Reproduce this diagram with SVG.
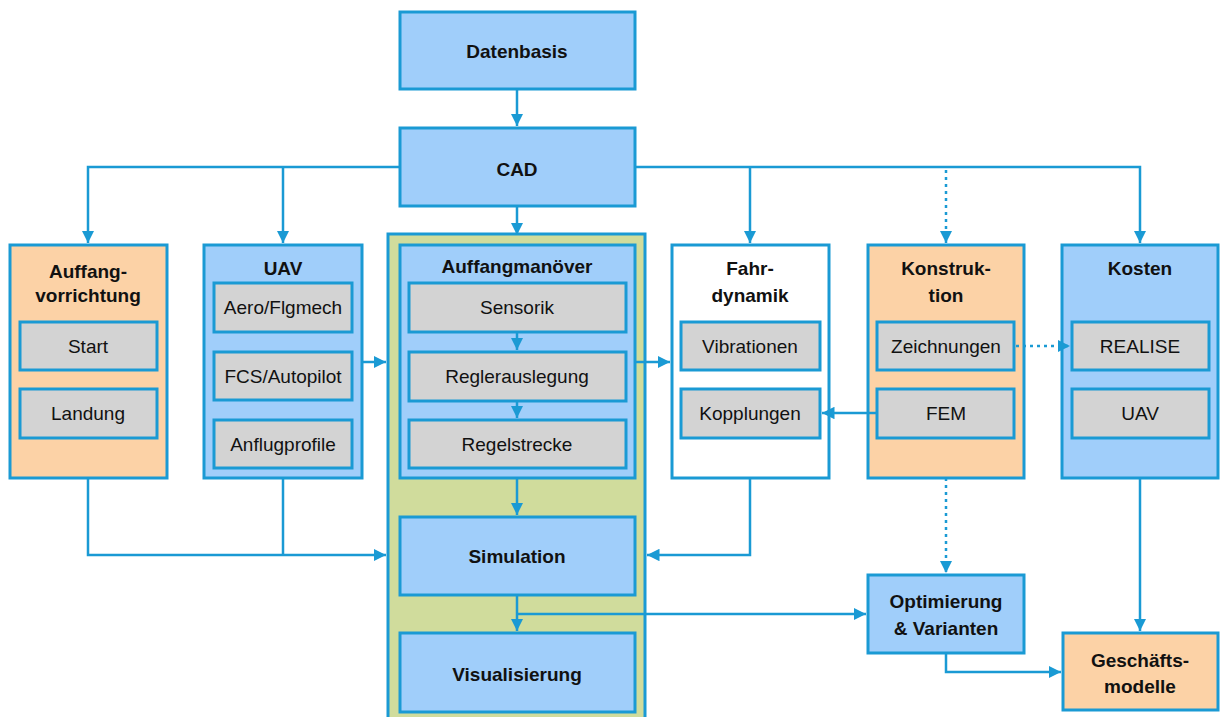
<svg xmlns="http://www.w3.org/2000/svg" width="1220" height="717" viewBox="0 0 1220 717">
  <defs>
    <marker id="arr" viewBox="0 0 10 10" refX="10" refY="5" markerWidth="5" markerHeight="5" orient="auto" markerUnits="strokeWidth">
      <path d="M0,0 L10,5 L0,10 z" fill="#1a9ad4"/>
    </marker>
    <style>
      .blue { fill: #a0cefa; stroke: #1a9ad4; stroke-width: 3; }
      .orange { fill: #fcd2a6; stroke: #1a9ad4; stroke-width: 3; }
      .white { fill: #ffffff; stroke: #1a9ad4; stroke-width: 3; }
      .green { fill: #d0dc9c; stroke: #1a9ad4; stroke-width: 3; }
      .gray { fill: #d3d3d3; stroke: #1a9ad4; stroke-width: 3; }
      .title { font-family: "Liberation Sans", Arial, sans-serif; font-weight: bold; font-size: 19px; fill: #111; text-anchor: middle; }
      .sub { font-family: "Liberation Sans", Arial, sans-serif; font-size: 19px; fill: #111; text-anchor: middle; }
      .ln { fill: none; stroke: #1a9ad4; stroke-width: 2.5; }
      .dot { fill: none; stroke: #1a9ad4; stroke-width: 2.5; stroke-dasharray: 3 4; }
    </style>
  </defs>

  <!-- green container around the simulation chain -->
  <rect id="sim-bereich" class="green" x="388" y="234" width="257" height="490"/>

  <g id="datenbasis">
    <rect class="blue" x="400" y="12" width="235" height="77"/>
    <text class="title" x="517" y="58">Datenbasis</text>
  </g>
  <g id="cad">
    <rect class="blue" x="400" y="128" width="235" height="78"/>
    <text class="title" x="517" y="176">CAD</text>
  </g>

  <g id="auffangvorrichtung">
    <rect class="orange" x="10" y="245" width="157" height="233"/>
    <text class="title" x="88" y="278">Auffang-</text>
    <text class="title" x="88" y="302">vorrichtung</text>
    <rect class="gray" x="20" y="322" width="137" height="48"/>
    <text class="sub" x="88" y="353">Start</text>
    <rect class="gray" x="20" y="389" width="137" height="49"/>
    <text class="sub" x="88" y="420">Landung</text>
  </g>

  <g id="uav">
    <rect class="blue" x="204" y="245" width="158" height="233"/>
    <text class="title" x="283" y="275">UAV</text>
    <rect class="gray" x="214" y="283" width="138" height="49"/>
    <text class="sub" x="283" y="314">Aero/Flgmech</text>
    <rect class="gray" x="214" y="352" width="138" height="48"/>
    <text class="sub" x="283" y="383">FCS/Autopilot</text>
    <rect class="gray" x="214" y="420" width="138" height="48"/>
    <text class="sub" x="283" y="451">Anflugprofile</text>
  </g>

  <g id="auffangmanoever">
    <rect class="blue" x="400" y="245" width="235" height="233"/>
    <text class="title" x="517" y="273">Auffangmanöver</text>
    <rect class="gray" x="409" y="283" width="217" height="49"/>
    <text class="sub" x="517" y="314">Sensorik</text>
    <rect class="gray" x="409" y="352" width="217" height="49"/>
    <text class="sub" x="517" y="383">Reglerauslegung</text>
    <rect class="gray" x="409" y="420" width="217" height="48"/>
    <text class="sub" x="517" y="451">Regelstrecke</text>
  </g>

  <g id="fahrdynamik">
    <rect class="white" x="672" y="245" width="157" height="233"/>
    <text class="title" x="750" y="275">Fahr-</text>
    <text class="title" x="750" y="302">dynamik</text>
    <rect class="gray" x="681" y="322" width="139" height="48"/>
    <text class="sub" x="750" y="353">Vibrationen</text>
    <rect class="gray" x="681" y="389" width="139" height="49"/>
    <text class="sub" x="750" y="420">Kopplungen</text>
  </g>

  <g id="konstruktion">
    <rect class="orange" x="868" y="245" width="156" height="233"/>
    <text class="title" x="946" y="275">Konstruk-</text>
    <text class="title" x="946" y="302">tion</text>
    <rect class="gray" x="877" y="322" width="137" height="48"/>
    <text class="sub" x="946" y="353">Zeichnungen</text>
    <rect class="gray" x="877" y="389" width="137" height="49"/>
    <text class="sub" x="946" y="420">FEM</text>
  </g>

  <g id="kosten">
    <rect class="blue" x="1062" y="245" width="156" height="233"/>
    <text class="title" x="1140" y="275">Kosten</text>
    <rect class="gray" x="1072" y="322" width="137" height="48"/>
    <text class="sub" x="1140" y="353">REALISE</text>
    <rect class="gray" x="1072" y="389" width="137" height="49"/>
    <text class="sub" x="1140" y="420">UAV</text>
  </g>

  <g id="simulation">
    <rect class="blue" x="400" y="517" width="235" height="78"/>
    <text class="title" x="517" y="563">Simulation</text>
  </g>
  <g id="visualisierung">
    <rect class="blue" x="400" y="633" width="235" height="79"/>
    <text class="title" x="517" y="681">Visualisierung</text>
  </g>

  <g id="optimierung">
    <rect class="blue" x="868" y="575" width="156" height="78"/>
    <text class="title" x="946" y="608">Optimierung</text>
    <text class="title" x="946" y="635">&amp; Varianten</text>
  </g>
  <g id="geschaeftsmodelle">
    <rect class="orange" x="1063" y="633" width="155" height="77"/>
    <text class="title" x="1140" y="667">Geschäfts-</text>
    <text class="title" x="1140" y="693">modelle</text>
  </g>

  <g id="connectors">
    <!-- Datenbasis to CAD, CAD to simulation area -->
    <path class="ln" d="M517,89 V126" marker-end="url(#arr)"/>
    <path class="ln" d="M517,206 V235" marker-end="url(#arr)"/>
    <!-- CAD to the left columns -->
    <path class="ln" d="M400,167 H88 V243" marker-end="url(#arr)"/>
    <path class="ln" d="M283,167 V243" marker-end="url(#arr)"/>
    <!-- CAD to the right columns -->
    <path class="ln" d="M635,167 H1140 V243" marker-end="url(#arr)"/>
    <path class="ln" d="M750,167 V243" marker-end="url(#arr)"/>
    <path class="dot" d="M946,170 V243" marker-end="url(#arr)"/>
    <!-- chain inside Auffangmanöver -->
    <path class="ln" d="M517,332 V350" marker-end="url(#arr)"/>
    <path class="ln" d="M517,401 V418" marker-end="url(#arr)"/>
    <!-- UAV into simulation area, Auffangmanöver to Fahrdynamik -->
    <path class="ln" d="M362,362 H386" marker-end="url(#arr)"/>
    <path class="ln" d="M635,362 H670" marker-end="url(#arr)"/>
    <!-- FEM to Kopplungen, Zeichnungen to REALISE -->
    <path class="ln" d="M877,413 H822" marker-end="url(#arr)"/>
    <path class="dot" d="M1016,346 H1070" marker-end="url(#arr)"/>
    <!-- Auffangmanöver to Simulation -->
    <path class="ln" d="M517,478 V515" marker-end="url(#arr)"/>
    <!-- left columns into Simulation -->
    <path class="ln" d="M88,478 V555 H386" marker-end="url(#arr)"/>
    <path class="ln" d="M283,478 V555"/>
    <!-- Fahrdynamik into Simulation -->
    <path class="ln" d="M750,478 V555 H647" marker-end="url(#arr)"/>
    <!-- Simulation to Visualisierung and Optimierung -->
    <path class="ln" d="M517,595 V631" marker-end="url(#arr)"/>
    <path class="ln" d="M517,614 H866" marker-end="url(#arr)"/>
    <!-- Konstruktion to Optimierung -->
    <path class="dot" d="M946,478 V573" marker-end="url(#arr)"/>
    <!-- Kosten and Optimierung to Geschäftsmodelle -->
    <path class="ln" d="M1140,478 V631" marker-end="url(#arr)"/>
    <path class="ln" d="M946,653 V672 H1061" marker-end="url(#arr)"/>
  </g>
</svg>
